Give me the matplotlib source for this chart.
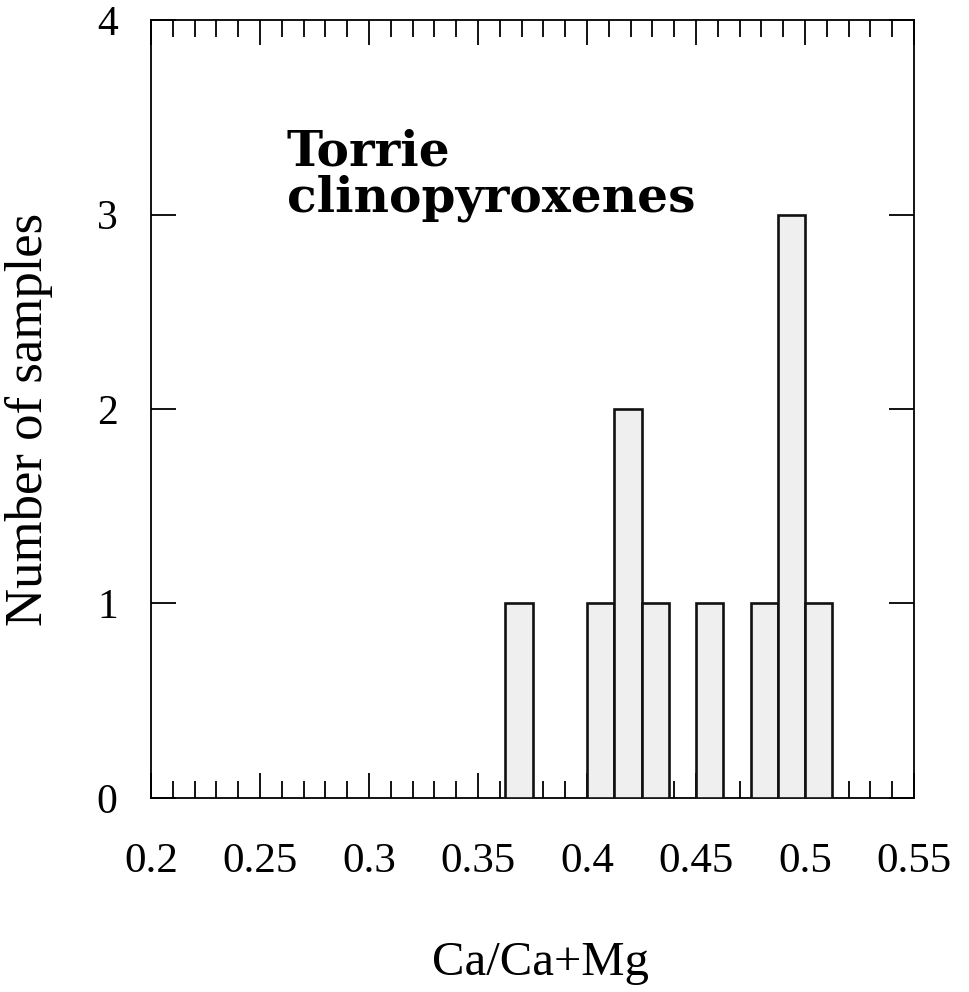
import matplotlib
matplotlib.use('Agg')
import matplotlib.pyplot as plt
from matplotlib.ticker import MultipleLocator

# histogram bins (left edge) and counts
bin_left = [0.3625, 0.4, 0.4125, 0.425, 0.45, 0.475, 0.4875, 0.5]
counts = [1, 1, 2, 1, 1, 1, 3, 1]
bin_width = 0.0125

xticks = [0.2, 0.25, 0.3, 0.35, 0.4, 0.45, 0.5, 0.55]
xticklabels = ['0.2', '0.25', '0.3', '0.35', '0.4', '0.45', '0.5', '0.55']
yticks = [0, 1, 2, 3, 4]

plt.rcParams['font.family'] = ['Liberation Serif', 'DejaVu Serif']

fig = plt.figure(figsize=(9.7, 9.92), dpi=100)
ax = fig.add_axes([0.1557, 0.1956, 0.7866, 0.7842])

ax.bar(bin_left, counts, width=bin_width, align='edge',
       color='#efefef', edgecolor='#111111', linewidth=1.9, zorder=3)

ax.set_xlim(0.2, 0.55)
ax.set_ylim(0, 4)
ax.set_xticks(xticks)
ax.set_xticklabels(xticklabels)
ax.set_yticks(yticks)
ax.xaxis.set_minor_locator(MultipleLocator(0.01))

ax.tick_params(axis='both', which='both', direction='in',
               top=True, right=True, width=1.3)
ax.tick_params(axis='x', which='major', length=18, pad=32, labelsize=31)
ax.tick_params(axis='x', which='minor', length=12)
ax.tick_params(axis='y', which='major', length=18, pad=24, labelsize=30)
ax.tick_params(axis='y', which='minor', left=False, right=False)
for s in ax.spines.values():
    s.set_linewidth(1.3)

ax.set_xlabel('Ca/Ca+Mg', fontsize=35, va='baseline')
ax.xaxis.set_label_coords(0.51, -0.2275)
ax.set_ylabel('Number of samples', fontsize=38, va='center')
ax.yaxis.set_label_coords(-0.16, 0.486)

fig.text(287 / 970, 1 - 129 / 992, 'Torrie\nclinopyroxenes',
         family='DejaVu Serif', fontsize=35, fontweight='bold',
         ha='left', va='top', linespacing=0.95)

fig.savefig('out.png', dpi=100)
